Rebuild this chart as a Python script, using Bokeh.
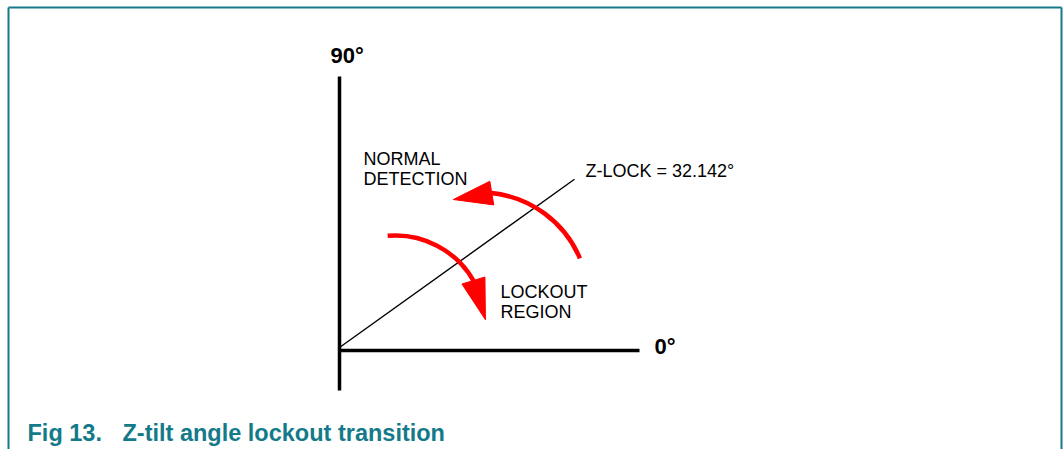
import math
from bokeh.plotting import figure
from bokeh.models import Range1d
from bokeh.core.properties import value
from bokeh.embed import file_html
from bokeh.resources import INLINE

# ---- diagram data (units: px, origin at the axes crossing, y up) ----
axis_x_end = 300
axis_y_top = 274
axis_y_bottom = -40

zlock_label_deg = 32.142
zlock_drawn_deg = 35.6
zlock_start = [0, 3]
zlock_length = 289

axis_labels = ["90°", "0°"]
axis_label_x = [-9, 315]
axis_label_y = [295, 4]

region_texts = ["NORMAL", "DETECTION", "LOCKOUT", "REGION", f"Z-LOCK = {zlock_label_deg}°"]
region_x = [24, 24, 161, 161, 246]
region_y = [192, 172, 59, 39, 180]

arc_cx = [141, 56]
arc_cy = [50, 25]
arc_r = [108, 90]
arc_start_deg = [23, 30]
arc_end_deg = [84, 95]
arrow_at_deg = [84, 30]
arrow_dir_deg = [189.5, -73]
arrow_len = [39, 41]
arrow_half_w = [12, 12]

caption_parts = ["Fig 13.", "Z-tilt angle lockout transition"]
caption_x = [-312, -217]
caption_y = [-82, -82]

# frame edges in page pixels (left, top, right)
frame_left, frame_top, frame_right = 8, 7, 1061

TEAL = "#147A8A"
W, H = 1063, 449
OX, OY = 339, 350  # page position of origin

p = figure(width=W, height=H, output_backend="svg", toolbar_location=None,
           x_range=Range1d(0 - OX, W - OX), y_range=Range1d(OY - H, OY),
           min_border=0, min_border_left=0, min_border_right=0,
           min_border_top=0, min_border_bottom=0)
p.axis.visible = False
p.grid.visible = False
p.outline_line_color = None
p.background_fill_color = "white"

y0 = p.y_range.start
fl, ft, fr = frame_left - OX, OY - frame_top, frame_right - OX

# frame (top, left, right)
p.line([fl, fr], [ft, ft], line_color=TEAL, line_width=2)
p.line([fl, fl], [y0, ft], line_color=TEAL, line_width=2)
p.line([fr, fr], [y0, ft], line_color=TEAL, line_width=2)

# axes
p.line([0, 0], [axis_y_bottom, axis_y_top], line_color="black", line_width=3.5)
p.line([0, axis_x_end], [0, 0], line_color="black", line_width=3.5)

# z-lock line
a = math.radians(zlock_drawn_deg)
p.line([zlock_start[0], zlock_start[0] + zlock_length * math.cos(a)],
       [zlock_start[1], zlock_start[1] + zlock_length * math.sin(a)],
       line_color="black", line_width=1.4)

# red arcs
p.arc(x=arc_cx, y=arc_cy, radius=arc_r,
      start_angle=[math.radians(v) for v in arc_start_deg],
      end_angle=[math.radians(v) for v in arc_end_deg],
      direction="anticlock", line_color="#FF0000", line_width=4.5)

# arrowheads
xs, ys = [], []
for cx, cy, r, at, d, L, hw in zip(arc_cx, arc_cy, arc_r, arrow_at_deg,
                                   arrow_dir_deg, arrow_len, arrow_half_w):
    bx = cx + r * math.cos(math.radians(at))
    by = cy + r * math.sin(math.radians(at))
    dx, dy = math.cos(math.radians(d)), math.sin(math.radians(d))
    nx, ny = -dy, dx
    xs.append([bx + hw * nx, bx + L * dx, bx - hw * nx])
    ys.append([by + hw * ny, by + L * dy, by - hw * ny])
p.patches(xs, ys, fill_color="#FF0000", line_color="#FF0000", line_width=1)

# texts
p.text(x=axis_label_x, y=axis_label_y, text=axis_labels,
       text_font=value("Liberation Sans"), text_font_style="bold",
       text_font_size="22px", text_color="black",
       text_baseline="alphabetic", text_align="left")
p.text(x=region_x, y=region_y, text=region_texts,
       text_font=value("Liberation Sans"), text_font_size="18px",
       text_color="black", text_baseline="alphabetic", text_align="left")
p.text(x=caption_x, y=caption_y, text=caption_parts,
       text_font=value("Liberation Sans"), text_font_style="bold",
       text_font_size="23.5px", text_color=TEAL,
       text_baseline="alphabetic", text_align="left")

open("out.html", "w").write(file_html(p, INLINE))
